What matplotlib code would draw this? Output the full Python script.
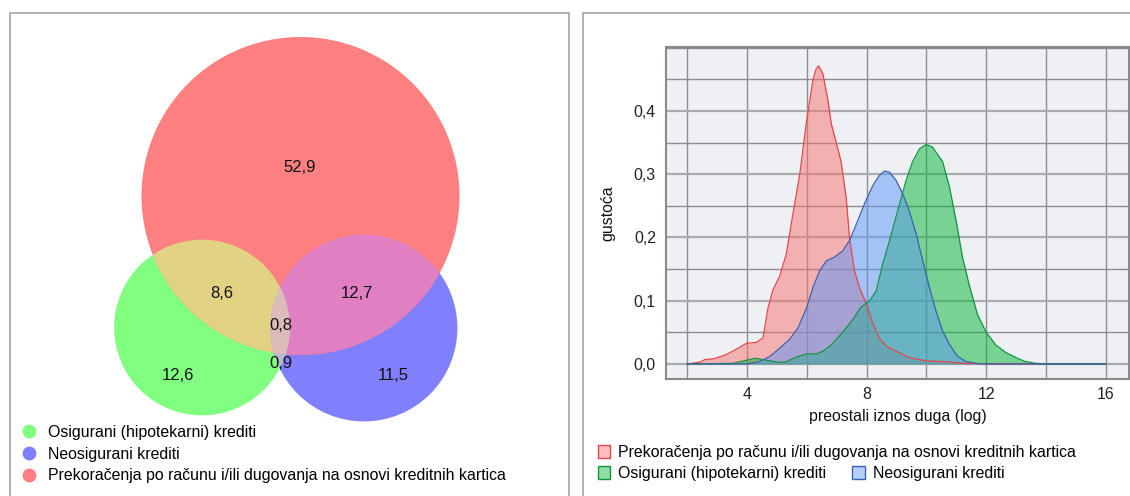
import numpy as np
import matplotlib
matplotlib.use("Agg")
import matplotlib.pyplot as plt
from matplotlib.patches import Circle, Polygon, Rectangle, Patch
from matplotlib.lines import Line2D
from matplotlib.ticker import FuncFormatter, MultipleLocator

plt.rcParams['font.family'] = ['Liberation Sans', 'DejaVu Sans']

# ---------------- Venn data ----------------
set_names = ["Osigurani (hipotekarni) krediti",
             "Neosigurani krediti",
             "Prekoračenja po računu i/ili dugovanja na osnovi kreditnih kartica"]
set_colors = ["#80ff80", "#8080ff", "#ff8080"]
# region shares (%)
only_green = 12.6
only_blue = 11.5
only_red = 52.9
green_red = 8.6
blue_red = 12.7
green_blue = 0.9
all_three = 0.8

# ---------------- density data ----------------
red_x = [2.0, 2.43, 2.6, 2.88, 3.32, 3.71, 4.0, 4.32, 4.47, 4.54, 4.71, 4.88, 5.1, 5.32, 5.54,
         5.77, 6.0, 6.21, 6.32, 6.4, 6.54, 6.71, 6.82, 7.0, 7.15, 7.32, 7.43, 7.6, 7.77, 8.0,
         8.2, 8.43, 8.66, 9.0, 9.43, 10.0, 10.8, 11.3, 12.0, 16.0]
red_y = [0.0, 0.003, 0.007, 0.008, 0.015, 0.025, 0.033, 0.034, 0.039, 0.041, 0.089, 0.118, 0.139,
         0.174, 0.237, 0.300, 0.385, 0.449, 0.467, 0.471, 0.459, 0.417, 0.380, 0.348, 0.320,
         0.263, 0.200, 0.147, 0.120, 0.094, 0.065, 0.041, 0.028, 0.020, 0.010, 0.005, 0.003,
         0.001, 0.0, 0.0]

green_x = [2.0, 3.54, 4.0, 4.27, 4.54, 5.0, 5.3, 5.66, 6.0, 6.32, 6.54, 6.82, 7.2, 7.54, 7.82,
           8.1, 8.32, 8.54, 8.77, 9.04, 9.32, 9.54, 9.77, 9.99, 10.2, 10.54, 10.77, 11.0, 11.2,
           11.43, 11.71, 12.0, 12.32, 12.66, 13.0, 13.3, 13.66, 14.1, 16.0]
green_y = [0.0, 0.001, 0.006, 0.009, 0.007, 0.003, 0.003, 0.011, 0.016, 0.016, 0.020, 0.030,
           0.050, 0.070, 0.090, 0.100, 0.115, 0.158, 0.195, 0.242, 0.290, 0.320, 0.340, 0.347,
           0.343, 0.320, 0.280, 0.225, 0.170, 0.125, 0.078, 0.050, 0.030, 0.018, 0.010, 0.004,
           0.001, 0.0, 0.0]

blue_x = [2.0, 4.0, 4.43, 4.77, 5.1, 5.43, 5.71, 6.0, 6.21, 6.43, 6.66, 6.93, 7.21, 7.43, 7.66,
          7.93, 8.21, 8.43, 8.6, 8.77, 8.99, 9.21, 9.43, 9.66, 9.88, 10.1, 10.32, 10.54, 10.77,
          11.04, 11.32, 11.66, 12.0, 16.0]
blue_y = [0.0, 0.0, 0.004, 0.012, 0.025, 0.039, 0.057, 0.089, 0.121, 0.147, 0.163, 0.169, 0.179,
          0.195, 0.221, 0.253, 0.282, 0.298, 0.305, 0.303, 0.290, 0.269, 0.242, 0.205, 0.163,
          0.121, 0.084, 0.052, 0.031, 0.012, 0.004, 0.001, 0.0, 0.0]

density_labels = ["Prekoračenja po računu i/ili dugovanja na osnovi kreditnih kartica",
                  "Osigurani (hipotekarni) krediti",
                  "Neosigurani krediti"]
fill_colors = ["#f6726e", "#02b634", "#5a96f6"]
line_colors = ["#e8444a", "#0f9444", "#3b62b0"]

x_ticks = [4, 8, 12, 16]
y_ticks = [0.0, 0.1, 0.2, 0.3, 0.4]

FS = 11.4
W, H = 1130, 496
fig = plt.figure(figsize=(W / 100, H / 100), dpi=100)
fig.patch.set_facecolor("white")

def fx(px):
    return px / W

def fy(py):
    return 1 - py / H

# panel frames
for (x0, x1) in [(9.5, 568.5), (583.5, 1140)]:
    fig.add_artist(Rectangle((fx(x0), fy(520)), fx(x1 - x0), (520 - 12.5) / H,
                             transform=fig.transFigure, fill=False,
                             edgecolor="#9c9c9c", lw=1.1))

# ---------------- Venn panel ----------------
ax1 = fig.add_axes([0, 0, 565 / W, 1])
ax1.set_xlim(0, 565)
ax1.set_ylim(H, 0)
ax1.axis("off")

tot_green = only_green + green_red + green_blue + all_three
tot_blue = only_blue + blue_red + green_blue + all_three
tot_red = only_red + green_red + blue_red + all_three
k = 159.0 / np.sqrt(tot_red)
r_green, r_blue, r_red = k * np.sqrt(tot_green), k * np.sqrt(tot_blue), k * np.sqrt(tot_red)
c_green, c_blue, c_red = (202, 327.5), (364, 328), (300.5, 196)

col_gr = "#e2d384"
col_br = "#e07fc1"
col_gb = "#b8b9d2"
col_all = "#dcbcbb"

cg = Circle(c_green, r_green, facecolor=set_colors[0], edgecolor="none", zorder=1)
cb = Circle(c_blue, r_blue, facecolor=set_colors[1], edgecolor="none", zorder=1)
cr = Circle(c_red, r_red, facecolor=set_colors[2], edgecolor="none", zorder=2)
for p in (cg, cb, cr):
    ax1.add_patch(p)

p_gr = Circle(c_green, r_green, facecolor=col_gr, edgecolor="none", zorder=3)
ax1.add_patch(p_gr)
p_gr.set_clip_path(cr)
p_br = Circle(c_blue, r_blue, facecolor=col_br, edgecolor="none", zorder=3)
ax1.add_patch(p_br)
p_br.set_clip_path(cr)

# lens between green and blue
t = np.linspace(0, 2 * np.pi, 1440)
gpts = np.c_[c_green[0] + r_green * np.cos(t), c_green[1] + r_green * np.sin(t)]
bpts = np.c_[c_blue[0] + r_blue * np.cos(t), c_blue[1] + r_blue * np.sin(t)]
g_in = gpts[np.hypot(gpts[:, 0] - c_blue[0], gpts[:, 1] - c_blue[1]) <= r_blue]
b_in = bpts[np.hypot(bpts[:, 0] - c_green[0], bpts[:, 1] - c_green[1]) <= r_green]
lens = np.vstack([g_in, b_in])
cen = lens.mean(axis=0)
lens = lens[np.argsort(np.arctan2(lens[:, 1] - cen[1], lens[:, 0] - cen[0]))]
ax1.add_patch(Polygon(lens, closed=True, facecolor=col_gb, edgecolor="none", zorder=3))
p_all = Polygon(lens, closed=True, facecolor=col_all, edgecolor="none", zorder=4)
ax1.add_patch(p_all)
p_all.set_clip_path(cr)

region_values = [only_red, green_red, blue_red, all_three, green_blue, only_green, only_blue]
label_pos = [(300, 168), (222, 293), (357, 293), (281, 325), (281, 364), (178, 376), (393, 376)]
for v, (lx, ly) in zip(region_values, label_pos):
    ax1.text(lx, ly, f"{v:.1f}".replace(".", ","), ha="center", va="center",
             fontsize=12, color="#111111", zorder=6)

venn_handles = [Line2D([], [], marker="o", ls="none", markersize=10,
                       markerfacecolor=c, markeredgecolor="none") for c in set_colors]
ax1.legend(venn_handles, set_names, loc="upper left",
           bbox_to_anchor=(21 / 565, 1 - 425 / H), frameon=False, fontsize=FS,
           handlelength=1.0, handletextpad=0.71, labelspacing=0.42,
           borderpad=0, borderaxespad=0)

# ---------------- density panel ----------------
ax2 = fig.add_axes([fx(666), fy(379), (1129 - 666) / W, (379 - 47) / H])
ax2.set_facecolor("#eef0f4")
ax2.set_xlim(1.3, 16.77)
ax2.set_ylim(-0.0237, 0.501)

series = [(red_x, red_y), (green_x, green_y), (blue_x, blue_y)]
for (sx, sy), fc, lc in zip(series, fill_colors, line_colors):
    ax2.fill_between(sx, sy, 0, color=fc, alpha=0.5, lw=0, zorder=2)
    ax2.plot(sx, sy, color=lc, lw=0.9, zorder=3)

ax2.set_xticks(x_ticks)
ax2.xaxis.set_minor_locator(MultipleLocator(2))
ax2.set_yticks(y_ticks)
ax2.yaxis.set_minor_locator(MultipleLocator(0.05))
ax2.xaxis.set_major_formatter(FuncFormatter(lambda v, p: f"{v:.0f}"))
ax2.yaxis.set_major_formatter(FuncFormatter(lambda v, p: f"{v:.1f}".replace(".", ",")))
ax2.tick_params(which="both", length=0, labelsize=FS, colors="#222222")
ax2.tick_params(axis="x", pad=5.5)
ax2.tick_params(axis="y", pad=7.2)
ax2.grid(which="major", axis="x", color="#8e8e8e", lw=1.0, zorder=1)
ax2.grid(which="minor", axis="x", color="#8e8e8e", lw=1.0, zorder=1)
ax2.grid(which="major", axis="y", color="#a9abb0", lw=1.6, zorder=1)
ax2.grid(which="minor", axis="y", color="#8e8e8e", lw=1.0, zorder=1)
ax2.set_axisbelow(True)
for s in ax2.spines.values():
    s.set_color("#8a8a8a")
    s.set_linewidth(1.5)
ax2.set_xlabel("preostali iznos duga (log)", fontsize=FS, color="#111111", labelpad=5)
ax2.set_ylabel("gustoća", fontsize=FS, color="#111111", labelpad=13)

leg_handles = [Patch(facecolor=matplotlib.colors.to_rgba(fc, 0.45), edgecolor=lc, lw=1.0)
               for fc, lc in zip(fill_colors, line_colors)]
fig.legend(leg_handles[:1], density_labels[:1], loc="upper left",
           bbox_to_anchor=(fx(597.5), fy(445)), frameon=False, fontsize=FS,
           handlelength=0.82, handleheight=0.82, handletextpad=0.5,
           borderpad=0, borderaxespad=0)
fig.legend(leg_handles[1:], density_labels[1:], loc="upper left", ncol=2,
           bbox_to_anchor=(fx(597.5), fy(466)), frameon=False, fontsize=FS,
           handlelength=0.82, handleheight=0.82, handletextpad=0.5, columnspacing=1.6,
           borderpad=0, borderaxespad=0)

fig.savefig("out.png", dpi=100)
